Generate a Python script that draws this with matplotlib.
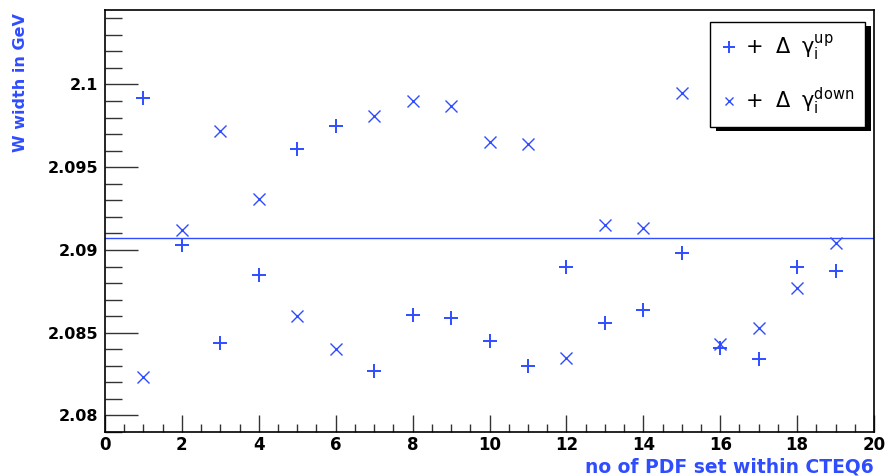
import numpy as np
import matplotlib
matplotlib.use('Agg')
import matplotlib.pyplot as plt
from matplotlib.ticker import MultipleLocator
from matplotlib.patches import Rectangle

plt.rcParams['font.family'] = ['DejaVu Sans']
plt.rcParams['mathtext.fontset'] = 'dejavusans'

# PDF set index within CTEQ6
pdf_set = np.arange(1, 20)

# W width (GeV) for up / down eigenvector variations
width_up = [2.0992, 2.0903, 2.0844, 2.0885, 2.0961, 2.0975, 2.0827, 2.0861, 2.0859, 2.0845,
            2.0830, 2.0890, 2.0856, 2.0864, 2.0898, 2.0841, 2.0834, 2.0890, 2.0887]
width_down = [2.0823, 2.0912, 2.0972, 2.0931, 2.0860, 2.0840, 2.0981, 2.0990, 2.0987, 2.0965,
              2.0964, 2.0835, 2.0915, 2.0913, 2.0995, 2.0843, 2.0853, 2.0877, 2.0904]
central = 2.09074

blue = '#2f4dff'

fig = plt.figure(figsize=(8.88, 4.76), dpi=100)
ax = fig.add_axes([105/888, 1 - 432/476, (874 - 105)/888, (432 - 10)/476])

ax.plot(pdf_set, width_up, ls='none', marker='+', ms=10, mew=1.4, color=blue,
        label=r'+  $\Delta\;\;\mathrm{\gamma}_{\mathrm{i}}^{\mathrm{up}}$')
ax.plot(pdf_set, width_down, ls='none', marker='x', ms=8, mew=1.0, color=blue,
        label=r'+  $\Delta\;\;\mathrm{\gamma}_{\mathrm{i}}^{\mathrm{down}}$')
ax.axhline(central, color=blue, lw=1.0)

ax.set_xlim(0, 20)
ax.set_ylim(2.079, 2.1045)
ax.xaxis.set_major_locator(MultipleLocator(2))
ax.xaxis.set_minor_locator(MultipleLocator(0.5))
ax.yaxis.set_minor_locator(MultipleLocator(0.001))
ax.set_yticks([2.08, 2.085, 2.09, 2.095, 2.1])
ax.set_yticklabels(['2.08', '2.085', '2.09', '2.095', '2.1'])

ax.tick_params(axis='both', which='both', direction='in', labelsize=11.5, width=1.0, color='#333333')
ax.tick_params(axis='y', which='major', length=24, pad=5)
ax.tick_params(axis='y', which='minor', length=12)
ax.tick_params(axis='x', which='major', length=12, pad=3, labelsize=12)
ax.tick_params(axis='x', which='minor', length=6)
for lab in ax.get_xticklabels() + ax.get_yticklabels():
    lab.set_fontweight('bold')
for sp in ax.spines.values():
    sp.set_linewidth(1.2)

ax.set_ylabel('W width in GeV', color=blue, fontweight='bold', fontsize=11.5)
ax.yaxis.set_label_coords(-0.100, 0.993)
ax.yaxis.label.set_horizontalalignment('right')
ax.set_xlabel('no of PDF set within CTEQ6', color=blue, fontweight='bold', fontsize=13.5)
ax.xaxis.set_label_coords(1.0, -0.06)
ax.xaxis.label.set_horizontalalignment('right')

leg = ax.legend(loc='upper right', bbox_to_anchor=(865/888, 1 - 22/476),
                bbox_transform=fig.transFigure, borderaxespad=0, fontsize=15,
                frameon=True, fancybox=False, edgecolor='black', framealpha=1,
                handlelength=0.8, handletextpad=0.4, borderpad=0.5, labelspacing=1.1,
                markerscale=0.8)
leg.get_frame().set_linewidth(1.0)
leg.set_zorder(6)

# ROOT-style solid black shadow behind the legend box
fig.canvas.draw()
bb = leg.get_window_extent()
shadow = Rectangle((bb.x0 + 6, bb.y0 - 4), bb.width, bb.height, transform=None,
                   facecolor='black', edgecolor='none', clip_on=False, zorder=5)
ax.add_patch(shadow)

fig.savefig('out.png', dpi=100)
